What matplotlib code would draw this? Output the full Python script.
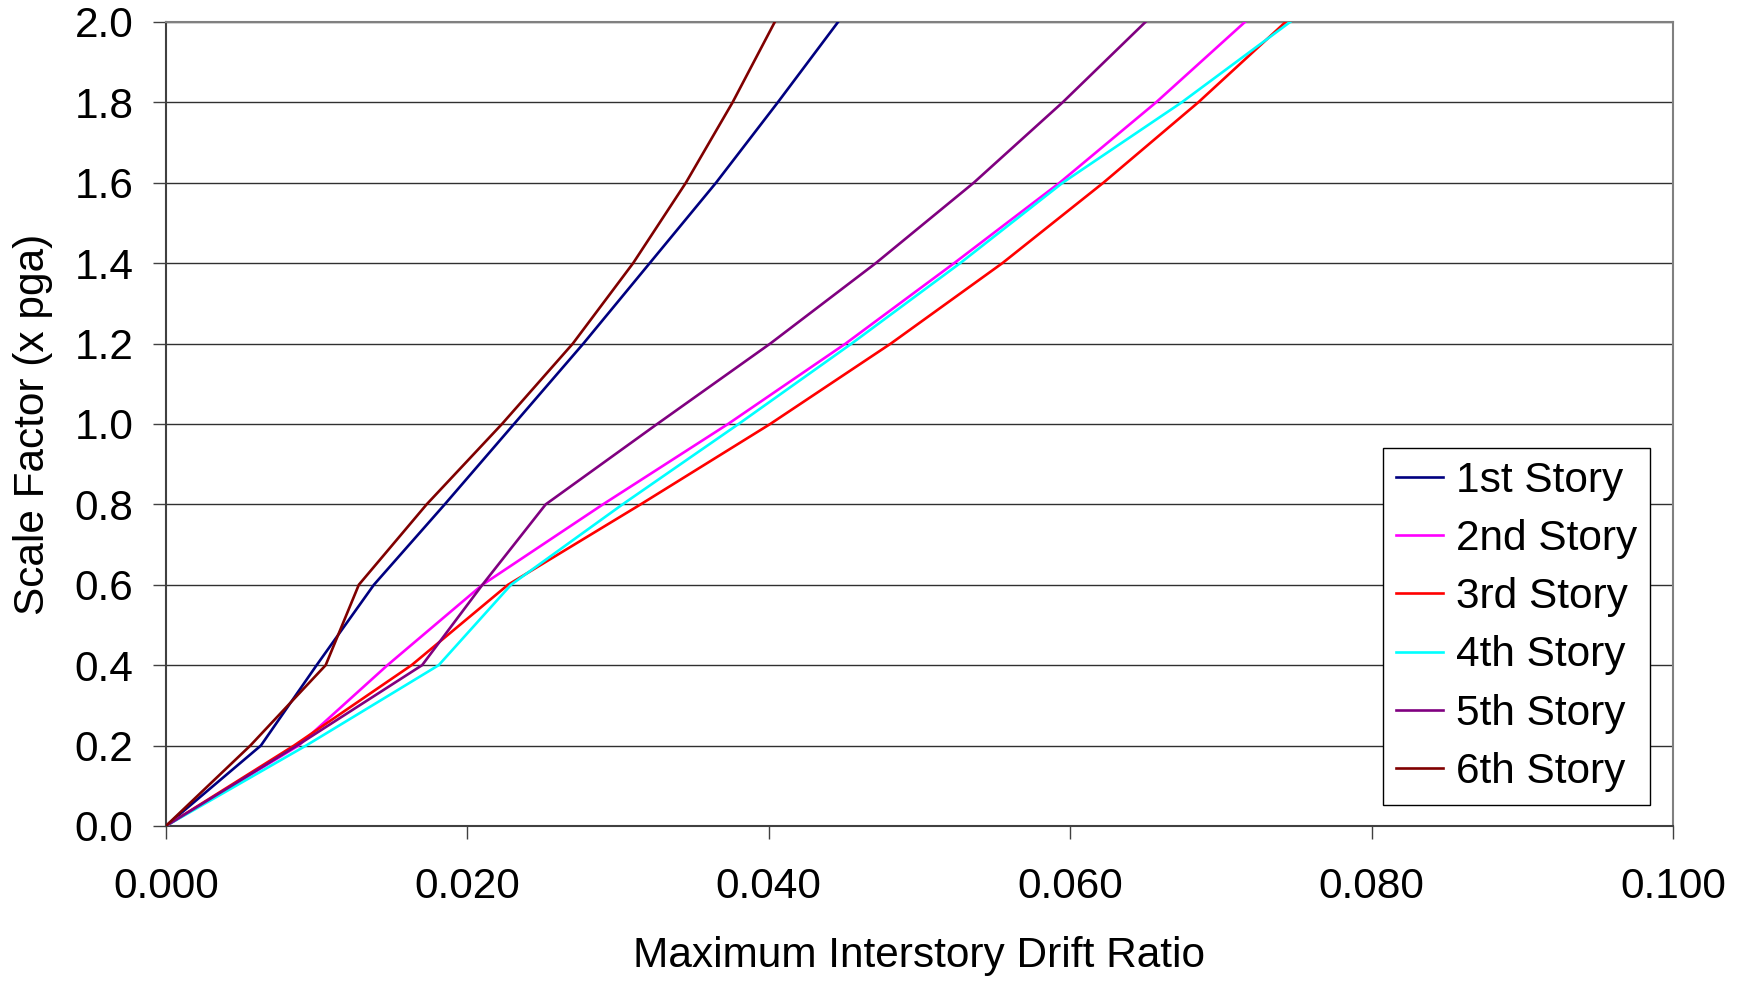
import matplotlib
matplotlib.use('Agg')
import matplotlib.pyplot as plt
from matplotlib.ticker import FormatStrFormatter

# scale factor (x pga) levels
scale = [0.0, 0.2, 0.4, 0.6, 0.8, 1.0, 1.2, 1.4, 1.6, 1.8, 2.0]

# maximum interstory drift ratio for each story
story1 = [0.0, 0.0063, 0.0100, 0.0138, 0.0185, 0.0231, 0.0277, 0.0321, 0.0365, 0.0406, 0.0446]
story2 = [0.0, 0.0088, 0.0147, 0.0210, 0.0290, 0.0373, 0.0451, 0.0523, 0.0593, 0.0657, 0.0716]
story3 = [0.0, 0.0085, 0.0163, 0.0227, 0.0315, 0.0401, 0.0481, 0.0555, 0.0622, 0.0685, 0.0743]
story4 = [0.0, 0.0093, 0.0181, 0.0229, 0.0303, 0.0380, 0.0455, 0.0527, 0.0595, 0.0674, 0.0746]
story5 = [0.0, 0.0087, 0.0170, 0.0210, 0.0252, 0.0326, 0.0401, 0.0471, 0.0536, 0.0595, 0.0650]
story6 = [0.0, 0.0056, 0.0106, 0.0128, 0.0173, 0.0223, 0.0270, 0.0310, 0.0345, 0.0376, 0.0404]

labels = ['1st Story', '2nd Story', '3rd Story', '4th Story', '5th Story', '6th Story']
colors = ['#000080', '#FF00FF', '#FF0000', '#00FFFF', '#800080', '#800000']

plt.rcParams['font.family'] = ['Liberation Sans', 'DejaVu Sans']
fs = 30.5

fig = plt.figure(figsize=(17.43, 9.82), dpi=100)
ax = fig.add_axes([0.0952, 0.1589, 0.8646, 0.8187])

for xs, lab, c in zip([story1, story2, story3, story4, story5, story6], labels, colors):
    ax.plot(xs, scale, color=c, lw=1.9, label=lab, zorder=3)

ax.set_xlim(0, 0.1)
ax.set_ylim(0, 2.0)
ax.set_xticks([0.0, 0.02, 0.04, 0.06, 0.08, 0.1])
ax.set_yticks(scale)
ax.xaxis.set_major_formatter(FormatStrFormatter('%.3f'))
ax.yaxis.set_major_formatter(FormatStrFormatter('%.1f'))

# horizontal grid only
ax.yaxis.grid(True, color='#303030', lw=1.0)
ax.set_axisbelow(True)

for s in ['top', 'right']:
    ax.spines[s].set_color('#808080')
    ax.spines[s].set_linewidth(1.5)
for s in ['left', 'bottom']:
    ax.spines[s].set_color('#404040')
    ax.spines[s].set_linewidth(1.5)

ax.tick_params(direction='out', length=9.5, width=1, color='#404040', labelsize=fs)
ax.tick_params(axis='x', pad=20)
ax.tick_params(axis='y', pad=14)

ax.set_xlabel('Maximum Interstory Drift Ratio', fontsize=fs)
ax.set_ylabel('Scale Factor (x pga)', fontsize=fs)
ax.xaxis.label.set_va('center')
ax.xaxis.set_label_coords(0.5, -0.1617)
ax.yaxis.label.set_va('center')
ax.yaxis.set_label_coords(-0.0883, 0.5)

leg = ax.legend(loc='upper left', bbox_to_anchor=(0.8076, 0.470), fontsize=fs,
                frameon=True, fancybox=False, framealpha=1, edgecolor='black',
                handlelength=1.12, handletextpad=0.3, labelspacing=0.43,
                borderpad=0.3, borderaxespad=0)
leg.get_frame().set_linewidth(1.0)

fig.savefig('out.png', dpi=100)
